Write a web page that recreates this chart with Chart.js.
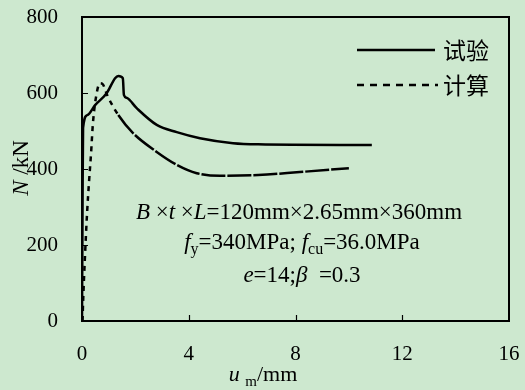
<!DOCTYPE html>
<html>
<head>
<meta charset="utf-8">
<script src="https://cdn.jsdelivr.net/npm/chart.js@4"></script>
<style>
  html, body { margin: 0; padding: 0; background: #cde8cf; }
  canvas { display: block; }
</style>
</head>
<body>
<canvas id="chart" width="525" height="390"></canvas>
<script>
// values (u_m in mm, N in kN)
const testU = [0, 0.02, 0.04, 0.2, 0.49, 0.93, 1.24, 1.36, 1.53, 1.57, 1.68, 2.05, 2.8, 3.55, 4.42, 5.66, 6.6, 10.86];
const testN = [0, 300, 508, 542, 568, 600, 639, 645, 639, 595, 587, 560, 516, 497, 481, 468, 465, 463];
const calcU = [0.02, 0.04, 0.11, 0.19, 0.26, 0.34, 0.41, 0.56, 0.67, 0.79, 0.94, 1.36, 1.92, 2.8, 3.55, 4.3, 5.17, 6.6, 8.16, 10.0];
const calcN = [0, 47, 168, 284, 363, 442, 521, 603, 626, 622, 595, 542, 494, 445, 411, 389, 382, 384, 392, 402];
const xTicks = [0, 4, 8, 12, 16];
const yTicks = [0, 200, 400, 600, 800];
const legendLabels = ['试验', '计算'];

const serif = '"Liberation Serif", "Times New Roman", serif';
const bg = '#cde8cf';

const toPts = (us, ns) => us.map((u, i) => ({ x: u, y: ns[i] }));

// draws runs of text with italic / subscript parts, centred at cx
function richText(ctx, parts, cx, baseY, size) {
  const fontOf = (p) => {
    if (p[1] === 'i') return 'italic ' + size + 'px ' + serif;
    if (p[1] === 'sub') return Math.round(size * 0.7) + 'px ' + serif;
    return size + 'px ' + serif;
  };
  let total = 0;
  parts.forEach(p => { ctx.font = fontOf(p); total += ctx.measureText(p[0]).width; });
  let x = cx - total / 2;
  ctx.textAlign = 'left';
  ctx.textBaseline = 'alphabetic';
  parts.forEach(p => {
    ctx.font = fontOf(p);
    ctx.fillText(p[0], x, baseY + (p[1] === 'sub' ? 5 : 0));
    x += ctx.measureText(p[0]).width;
  });
}

const decor = {
  id: 'decor',
  beforeDraw(chart) {
    const ctx = chart.ctx;
    ctx.save();
    ctx.fillStyle = bg;
    ctx.fillRect(0, 0, chart.width, chart.height);
    ctx.restore();
  },
  afterDraw(chart) {
    const ctx = chart.ctx;
    const a = chart.chartArea;
    const xs = chart.scales.x, ys = chart.scales.y;
    ctx.save();
    ctx.strokeStyle = '#000';
    ctx.fillStyle = '#000';
    // frame
    ctx.lineWidth = 2;
    ctx.strokeRect(a.left, a.top, a.right - a.left, a.bottom - a.top);
    // inward ticks
    ctx.lineWidth = 1.2;
    ctx.beginPath();
    xTicks.slice(1, -1).forEach(v => {
      const px = Math.round(xs.getPixelForValue(v)) + 0.5;
      ctx.moveTo(px, a.bottom); ctx.lineTo(px, a.bottom - 6);
    });
    yTicks.slice(1, -1).forEach(v => {
      const py = Math.round(ys.getPixelForValue(v)) + 0.5;
      ctx.moveTo(a.left, py); ctx.lineTo(a.left + 6, py);
    });
    ctx.stroke();

    // legend
    ctx.lineWidth = 2.5;
    ctx.setLineDash([]);
    ctx.beginPath(); ctx.moveTo(357, 50); ctx.lineTo(435, 50); ctx.stroke();
    ctx.setLineDash([7, 6]);
    ctx.beginPath(); ctx.moveTo(357, 85); ctx.lineTo(438, 85); ctx.stroke();
    ctx.setLineDash([]);
    ctx.font = '23px "Noto Sans CJK SC", sans-serif';
    ctx.textAlign = 'left';
    ctx.textBaseline = 'middle';
    ctx.fillText(legendLabels[0], 443, 50);
    ctx.fillText(legendLabels[1], 443, 85);

    // specimen notes
    richText(ctx, [['B', 'i'], [' ×', 'n'], ['t', 'i'], [' ×', 'n'], ['L', 'i'], ['=120mm×2.65mm×360mm', 'n']], 299, 219, 23);
    richText(ctx, [['f', 'i'], ['y', 'sub'], ['=340MPa; ', 'n'], ['f', 'i'], ['cu', 'sub'], ['=36.0MPa', 'n']], 302, 249, 23);
    richText(ctx, [['e', 'i'], ['=14;', 'n'], ['β', 'i'], ['  =0.3', 'n']], 302, 282, 23);

    // x title
    richText(ctx, [['u', 'i'], [' ', 'n'], ['m', 'sub'], ['/mm', 'n']], 263, 381, 22);

    // y title (rotated)
    ctx.translate(28, 168);
    ctx.rotate(-Math.PI / 2);
    richText(ctx, [['N', 'i'], [' /kN', 'n']], 0, 0, 23);
    ctx.restore();
  }
};

new Chart(document.getElementById('chart').getContext('2d'), {
  type: 'line',
  data: {
    datasets: [
      {
        label: legendLabels[0],
        data: toPts(testU, testN),
        borderColor: '#000',
        borderWidth: 2.5,
        pointRadius: 0,
        fill: false,
        cubicInterpolationMode: 'monotone'
      },
      {
        label: legendLabels[1],
        data: toPts(calcU, calcN),
        borderColor: '#000',
        borderWidth: 2.5,
        pointRadius: 0,
        fill: false,
        cubicInterpolationMode: 'monotone',
        segment: {
          // dashes get long and tight on the falling branch
          borderDash: c => c.p0DataIndex >= 11 ? [24, 2] : [5, 5]
        }
      }
    ]
  },
  options: {
    responsive: false,
    devicePixelRatio: 1,
    animation: false,
    layout: { padding: { top: 17, right: 16, left: 0, bottom: 0 } },
    plugins: { legend: { display: false }, tooltip: { enabled: false } },
    scales: {
      x: {
        type: 'linear',
        min: 0, max: 16,
        afterBuildTicks: s => { s.ticks = xTicks.map(v => ({ value: v })); },
        afterFit: s => { s.height = 69; s.paddingLeft = 0; s.paddingRight = 0; },
        grid: { display: false },
        border: { display: true, color: '#000', width: 2 },
        ticks: { color: '#000', padding: 13, maxRotation: 0, font: { family: serif, size: 21 } }
      },
      y: {
        min: 0, max: 800,
        afterBuildTicks: s => { s.ticks = yTicks.map(v => ({ value: v })); },
        afterFit: s => { s.width = 82; s.paddingTop = 0; s.paddingBottom = 0; },
        grid: { display: false },
        border: { display: true, color: '#000', width: 2 },
        ticks: { color: '#000', padding: 16, font: { family: serif, size: 21 } }
      }
    }
  },
  plugins: [decor]
});
</script>
</body>
</html>
